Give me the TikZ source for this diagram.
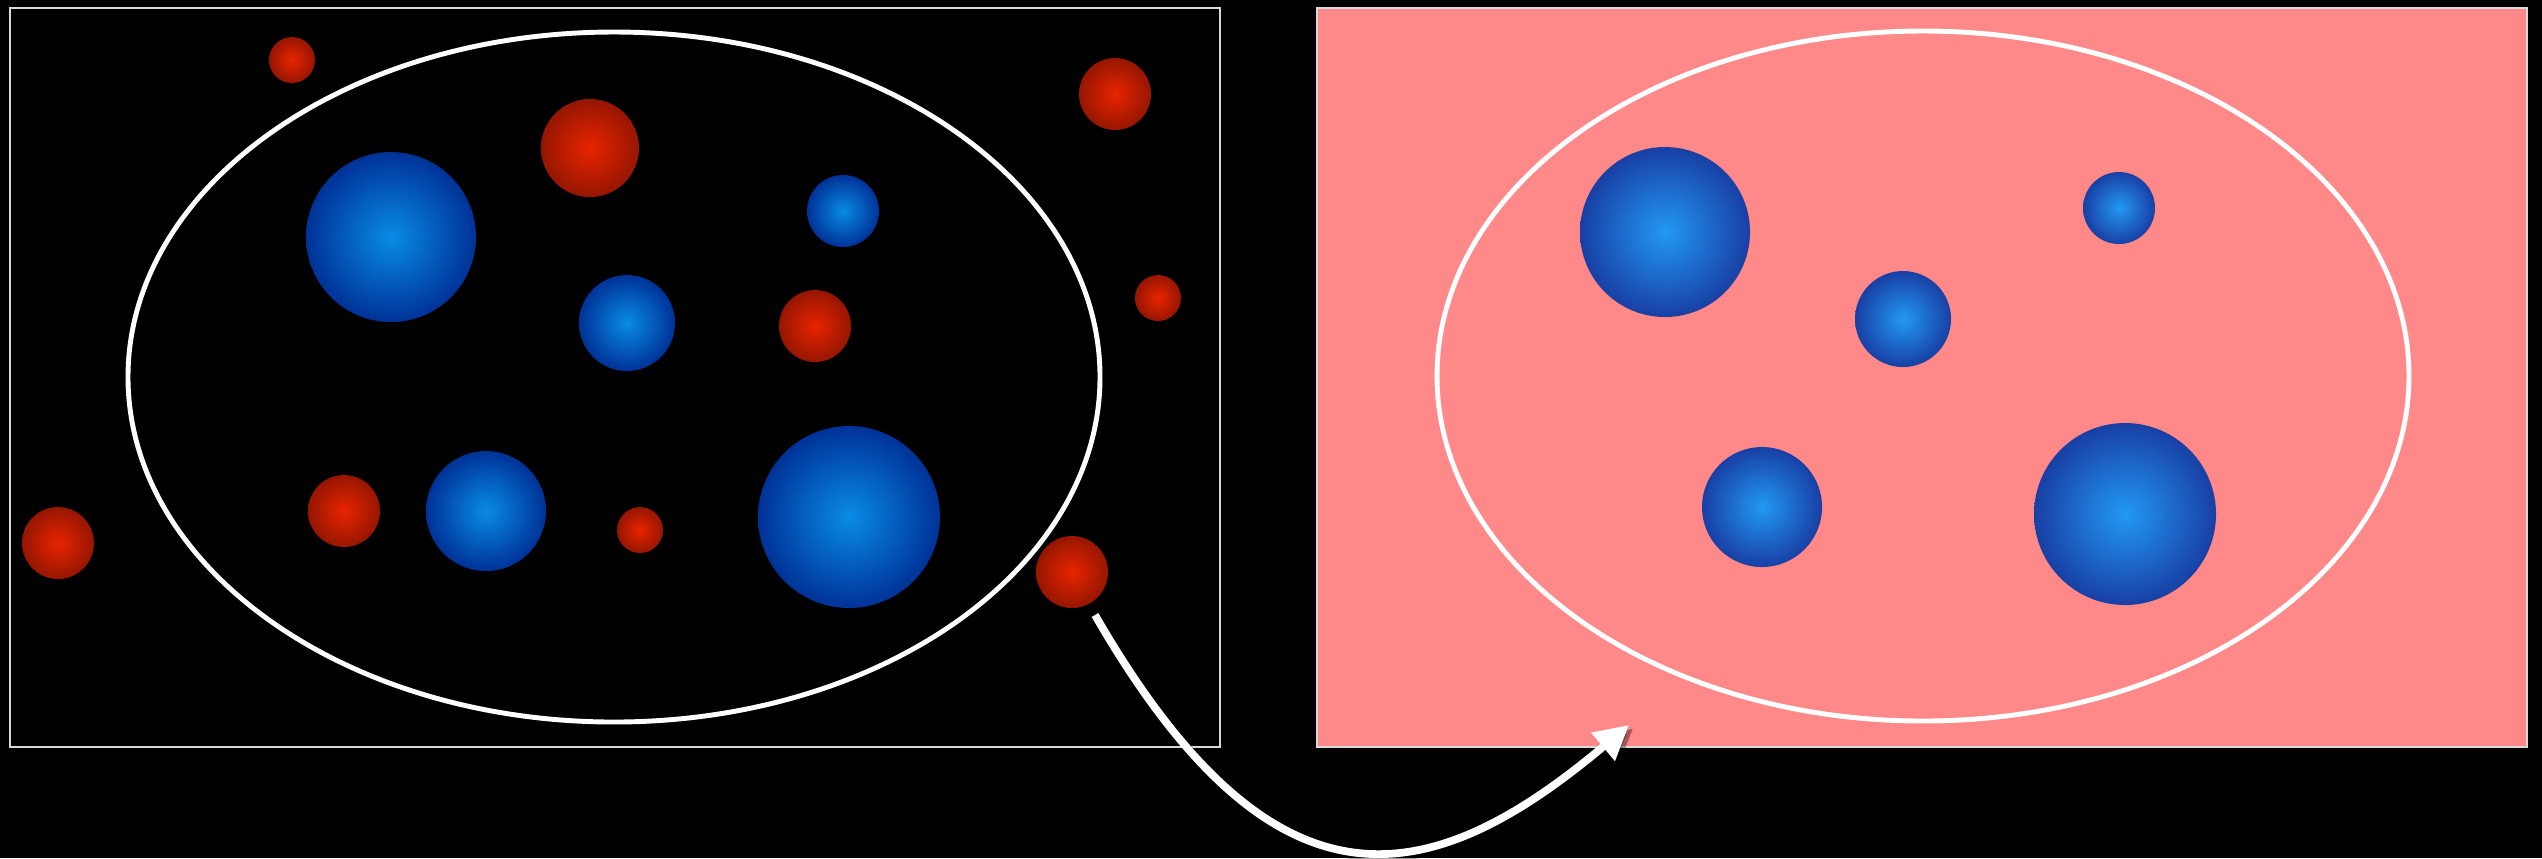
\documentclass[tikz,border=0pt]{standalone}
\usepackage{xcolor}
\usetikzlibrary{arrows.meta}
\definecolor{panelpink}{RGB}{255,136,136}
\definecolor{redcore}{RGB}{232,36,0}
\definecolor{redrim}{RGB}{150,22,0}
\definecolor{bluecore}{RGB}{10,155,255}
\definecolor{bluerim}{RGB}{0,56,168}
\tikzset{
  redball/.style={circle,inner sep=0pt,inner color=redcore,outer color=redrim},
  blueball/.style={circle,inner sep=0pt,inner color=bluecore,outer color=bluerim,opacity=0.9},
  panel/.style={draw=white!85!black,line width=0.6pt},
  orbit/.style={draw=white,line width=1.4pt},
  hop/.style={line width=2.2pt,-{Triangle[length=3.4mm,width=3.5mm]}},
}
\begin{document}
\begin{tikzpicture}[x=0.1mm,y=-0.1mm,>=Stealth]
\fill[black] (0,0) rectangle (2542,858);
\useasboundingbox (0,0) rectangle (2542,858);
% panels
\draw[panel,fill=black] (10,8) rectangle (1220,747);
\draw[panel,fill=panelpink] (1317,8) rectangle (2527,747);
\draw[orbit] (614,377) ellipse [x radius=486,y radius=345];
\draw[orbit] (1923,376) ellipse [x radius=486,y radius=345];
% red balls, left only
\foreach \x/\y/\r [count=\i] in {292/60/23,590/148/49,1115/94/36,1158/298/23,815/326/36,
  344/511/36,58/543/36,640/530/23,1072/572/36}
  \node[redball,minimum size=0.2mm*\r] (red\i) at (\x,\y) {};
% blue balls, left
\foreach \x/\y/\r [count=\i] in {391/237/85,843/211/36,627/323/48,486/511/60,849/517/91}
  \node[blueball,minimum size=0.2mm*\r] (blueL\i) at (\x,\y) {};
% blue balls, right
\foreach \x/\y/\r [count=\i] in {1665/232/85,2119/208/36,1903/319/48,1762/507/60,2125/514/91}
  \node[blueball,minimum size=0.2mm*\r] (blueR\i) at (\x,\y) {};
% arrow, with a soft shadow under it
\coordinate (jump) at (1095,615);
\coordinate (land) at (1629,725);
\draw[hop,black,opacity=0.35,transform canvas={shift={(0.4mm,-0.35mm)}}]
  (jump) .. controls +(180,312) and +(-199,167) .. (land);
\draw[hop,white] (jump) .. controls +(180,312) and +(-199,167) .. (land);
\end{tikzpicture}
\end{document}
